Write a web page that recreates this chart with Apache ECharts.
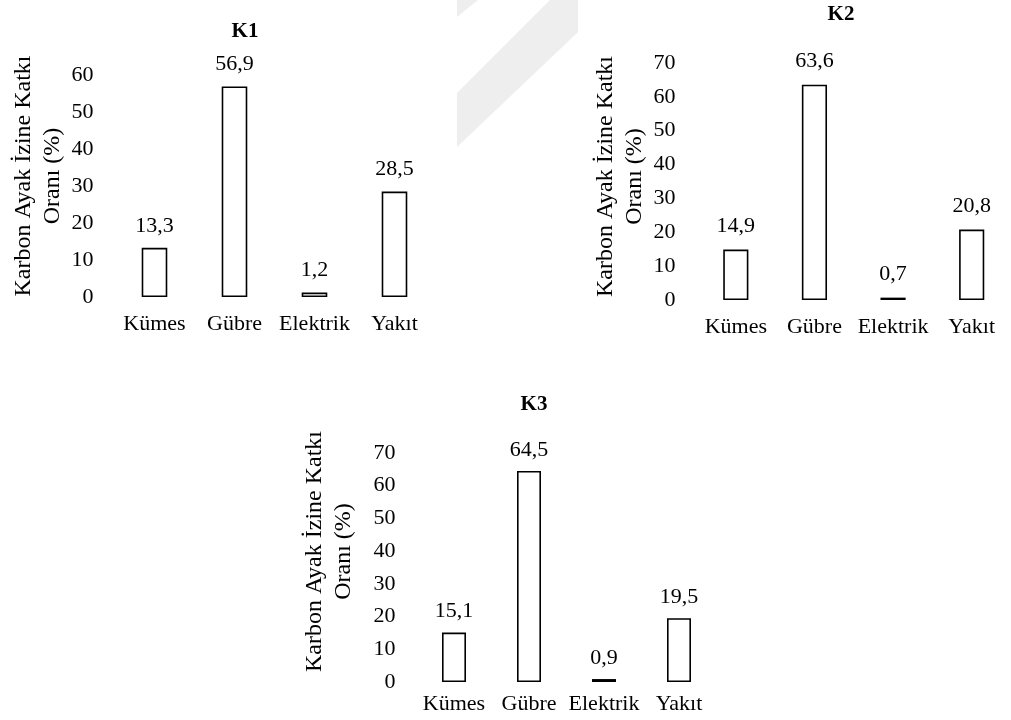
<!DOCTYPE html>
<html>
<head>
<meta charset="utf-8">
<script src="https://cdn.jsdelivr.net/npm/echarts@6/dist/echarts.min.js"></script>
<style>
  html, body { margin: 0; padding: 0; background: #ffffff; }
  #chart { width: 1011px; height: 720px; }
</style>
</head>
<body>
<div id="chart"></div>
<script>
// Carbon footprint contribution shares (%) for the three farms K1, K2, K3
const categories = ['Kümes', 'Gübre', 'Elektrik', 'Yakıt'];
const k1Values = [13.3, 56.9, 1.2, 28.5];
const k2Values = [14.9, 63.6, 0.7, 20.8];
const k3Values = [15.1, 64.5, 0.9, 19.5];
const panelTitles = ['K1', 'K2', 'K3'];
const yAxisTitle = 'Karbon Ayak İzine Katkı\nOranı (%)';
const yMaxima = [60, 70, 70];

const FONT = "'Liberation Serif', 'Times New Roman', serif";

// Panel geometry: plot rectangle, title anchor, label offsets
const panels = [
  { left: 114.5, top: 75,  width: 320, height: 222, titleX: 245, titleY: 21,  nameGap: 47, nameShift: 10, labelDist: 11, xMargin: 16 },
  { left: 696.5, top: 63,  width: 318, height: 237, titleX: 841, titleY: 4,   nameGap: 42, nameShift: 5,  labelDist: 12, xMargin: 16 },
  { left: 416.5, top: 453, width: 300, height: 229, titleX: 534, titleY: 394, nameGap: 58, nameShift: 16, labelDist: 10, xMargin: 11 }
];
const seriesData = [k1Values, k2Values, k3Values];

const chart = echarts.init(document.getElementById('chart'), null, { renderer: 'canvas' });

const option = {
  backgroundColor: '#ffffff',
  animation: false,
  title: panels.map((p, i) => ({
    text: panelTitles[i],
    left: p.titleX,
    top: p.titleY,
    textAlign: 'center',
    padding: 0,
    textStyle: { fontFamily: FONT, fontSize: 21, fontWeight: 'bold', color: '#000000' }
  })),
  grid: panels.map(p => ({
    left: p.left, top: p.top, width: p.width, height: p.height, containLabel: false
  })),
  xAxis: panels.map((p, i) => ({
    type: 'category',
    gridIndex: i,
    data: categories,
    axisLine: { show: false },
    axisTick: { show: false },
    axisLabel: { margin: p.xMargin, fontFamily: FONT, fontSize: 22, color: '#000000', interval: 0 }
  })),
  yAxis: panels.map((p, i) => ({
    type: 'value',
    gridIndex: i,
    min: 0,
    max: yMaxima[i],
    interval: 10,
    axisLine: { show: false },
    axisTick: { show: false },
    splitLine: { show: false },
    axisLabel: { margin: 21, fontFamily: FONT, fontSize: 22, color: '#000000' },
    name: yAxisTitle,
    nameLocation: 'middle',
    nameGap: p.nameGap,
    nameTextStyle: {
      fontFamily: FONT, fontSize: 24, color: '#000000', lineHeight: 29,
      padding: [0, 0, 0, 2 * p.nameShift]
    }
  })),
  series: panels.map((p, i) => ({
    type: 'bar',
    xAxisIndex: i,
    yAxisIndex: i,
    data: seriesData[i],
    barWidth: '32%',
    itemStyle: { color: '#ffffff', borderColor: '#000000', borderWidth: 1.6 },
    label: {
      show: true,
      position: 'top',
      distance: p.labelDist,
      fontFamily: FONT,
      fontSize: 22,
      color: '#000000',
      formatter: d => String(d.value).replace('.', ',')
    }
  })),
  graphic: [
    // faint diagonal stripes in the upper middle of the page
    {
      type: 'polygon', silent: true, z: -10,
      shape: { points: [[457, 0], [478, 0], [457, 17]] },
      style: { fill: '#eeeeee' }
    },
    {
      type: 'polygon', silent: true, z: -10,
      shape: { points: [[550, 0], [578, 0], [578, 32], [457, 147], [457, 93]] },
      style: { fill: '#eeeeee' }
    }
  ]
};

chart.setOption(option);
</script>
</body>
</html>
